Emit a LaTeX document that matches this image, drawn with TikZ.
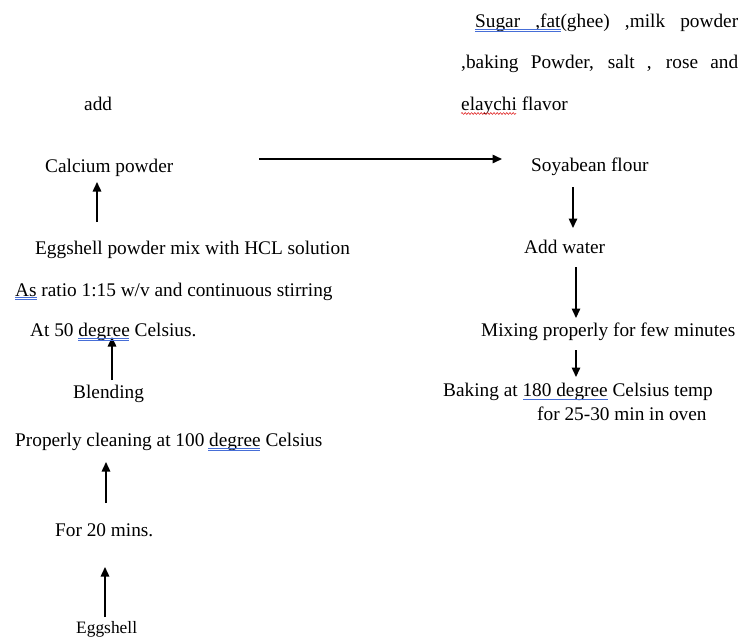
\documentclass[tikz,border=0pt]{standalone}
\usepackage{fontspec}
\setmainfont{Liberation Serif}
\usetikzlibrary{arrows.meta,decorations.pathmorphing}
\definecolor{spellblue}{RGB}{70,110,215}
\definecolor{spellred}{RGB}{225,40,40}
\begin{document}
\begin{tikzpicture}[x=1pt,y=-1pt,
  txt/.style={anchor=base west,inner sep=0pt,font=\fontsize{19.3}{23}\selectfont},
  smalltxt/.style={anchor=base west,inner sep=0pt,font=\fontsize{17.4}{21}\selectfont},
  flow/.style={line width=1.5pt,-{Triangle[length=9.5pt,width=8.5pt]}},
  gram/.style={spellblue,line width=0.6pt},
  spell/.style={spellred,line width=0.6pt,decorate,decoration={snake,amplitude=0.9pt,segment length=3.2pt}}]
\useasboundingbox (0,0) rectangle (741,638);
% top right paragraph
\node[txt] (ing1) at (475,27) {\makebox[263pt][s]{Sugar ,fat(ghee) ,milk powder}};
\node[txt] (ing2) at (461,68) {\makebox[277pt][s]{,baking Powder, salt , rose and}};
\node[txt] (ing3) at (461,110) {elaychi flavor};
\node[txt] (add) at (84,110) {add};
% left column
\node[txt] (calc) at (45,172) {Calcium powder};
\node[txt] (mix) at (35,254) {Eggshell powder mix with HCL solution};
\node[txt] (ratio) at (15,296) {As ratio 1:15 w/v and continuous stirring};
\node[txt] (at50) at (30,336) {At 50 degree Celsius.};
\node[txt] (blend) at (73,398) {Blending};
\node[txt] (clean) at (15,446) {Properly cleaning at 100 degree Celsius};
\node[txt] (for20) at (55,536) {For 20 mins.};
\node[smalltxt] (egg) at (76,633) {Eggshell};
% right column
\node[txt] (soy) at (531,171) {Soyabean flour};
\node[txt] (water) at (524,253) {Add water};
\node[txt] (mixing) at (481,336) {Mixing properly for few minutes};
\node[txt] (bake1) at (443,396) {Baking at 180 degree Celsius temp};
\node[txt] (bake2) at (537,420) {for 25-30 min in oven};
% arrow end points
\coordinate (h1) at (259,159); \coordinate (h2) at (502,159);
\coordinate (c1) at (97,222);  \coordinate (c2) at (97,182);
\coordinate (b1) at (112,380); \coordinate (b2) at (112,337);
\coordinate (p1) at (106,503); \coordinate (p2) at (106,462);
\coordinate (f1) at (105,617); \coordinate (f2) at (105,567);
\coordinate (s1) at (573,187); \coordinate (s2) at (573,228);
\coordinate (w1) at (576,267); \coordinate (w2) at (576,318);
\coordinate (m1) at (576,350); \coordinate (m2) at (576,377);
% arrows
\draw[flow] (h1) -- (h2);
\draw[flow] (c1) -- (c2);
\draw[flow] (b1) -- (b2);
\draw[flow] (p1) -- (p2);
\draw[flow] (f1) -- (f2);
\draw[flow] (s1) -- (s2);
\draw[flow] (w1) -- (w2);
\draw[flow] (m1) -- (m2);
% proofing underlines
\draw[gram] (475,29.5) -- (561,29.5); \draw[gram] (475,31.5) -- (561,31.5);
\draw[gram] (15,297.5) -- (37,297.5); \draw[gram] (15,299.5) -- (37,299.5);
\draw[gram] (78,338.5) -- (129,338.5); \draw[gram] (78,340.5) -- (129,340.5);
\draw[gram] (208,448.5) -- (260,448.5); \draw[gram] (208,450.5) -- (260,450.5);
\draw[gram] (523,399) -- (608,399);
\draw[spell] (461,113.5) -- (516,113.5);
\end{tikzpicture}
\end{document}
